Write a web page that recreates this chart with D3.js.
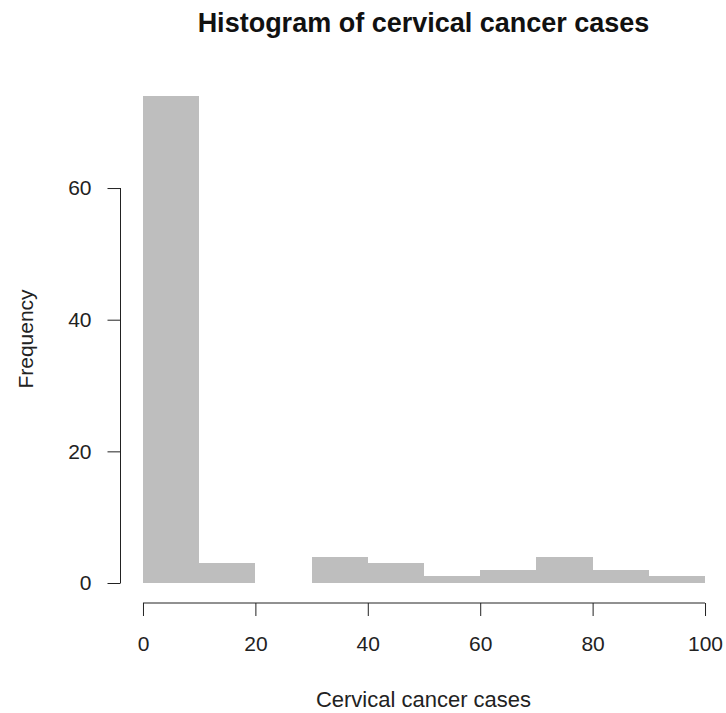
<!DOCTYPE html>
<style>
  body { margin: 0; background: white; }
  svg { display: block; font-family: "Liberation Sans", Arial, sans-serif; }
  .axis path, .axis line { stroke: #222; }
  .axis text { fill: #222; font-size: 21px; }
</style>
<body>
</body>
<script src="https://cdn.jsdelivr.net/npm/d3@7"></script>
<script>
  const w = 726, h = 713;

  // histogram bins (lower edge) and counts
  const binStart = [0, 10, 20, 30, 40, 50, 60, 70, 80, 90];
  const binWidth = 10;
  const counts = [74, 3, 0, 4, 3, 1, 2, 4, 2, 1];
  const xTicks = [0, 20, 40, 60, 80, 100];
  const yTicks = [0, 20, 40, 60];

  const svg = d3.select('body').append('svg')
    .attr('width', w)
    .attr('height', h);

  // R style plot region with 4% padding on each axis
  const x = d3.scaleLinear().domain([-4, 104]).range([120.5, 727.5]);
  const y = d3.scaleLinear().domain([-2.96, 76.96]).range([602.5, 76.4]);

  svg.append('g')
    .attr('shape-rendering', 'crispEdges')
    .selectAll('rect')
    .data(binStart.map((b, i) => ({b, c: counts[i]})).filter(d => d.c > 0))
    .join('rect')
    .attr('x', d => x(d.b))
    .attr('width', d => x(d.b + binWidth) - x(d.b))
    .attr('y', d => y(d.c))
    .attr('height', d => y(0) - y(d.c))
    .attr('fill', '#bebebe');

  // x axis
  svg.append('g')
    .attr('class', 'axis')
    .attr('transform', `translate(0, 603)`)
    .call(d3.axisBottom(x).tickValues(xTicks).tickSize(13).tickSizeOuter(0).tickPadding(20))
    .call(g => g.select('.domain').attr('d', `M${x(0)},0H${x(100)}`));

  // y axis
  svg.append('g')
    .attr('class', 'axis')
    .attr('transform', `translate(120.5, 0)`)
    .call(d3.axisLeft(y).tickValues(yTicks).tickSize(13).tickSizeOuter(0).tickPadding(16))
    .call(g => g.select('.domain').attr('d', `M0,${y(0)}V${y(60)}`));

  svg.append('text')
    .attr('x', 423.5)
    .attr('y', 32)
    .attr('text-anchor', 'middle')
    .attr('font-weight', 'bold')
    .attr('font-size', 27)
    .attr('fill', '#111')
    .text('Histogram of cervical cancer cases');

  svg.append('text')
    .attr('x', 423.5)
    .attr('y', 707)
    .attr('text-anchor', 'middle')
    .attr('font-size', 22)
    .attr('fill', '#222')
    .text('Cervical cancer cases');

  svg.append('text')
    .attr('transform', 'translate(33, 339) rotate(-90)')
    .attr('text-anchor', 'middle')
    .attr('font-size', 21)
    .attr('fill', '#222')
    .text('Frequency');
</script>
